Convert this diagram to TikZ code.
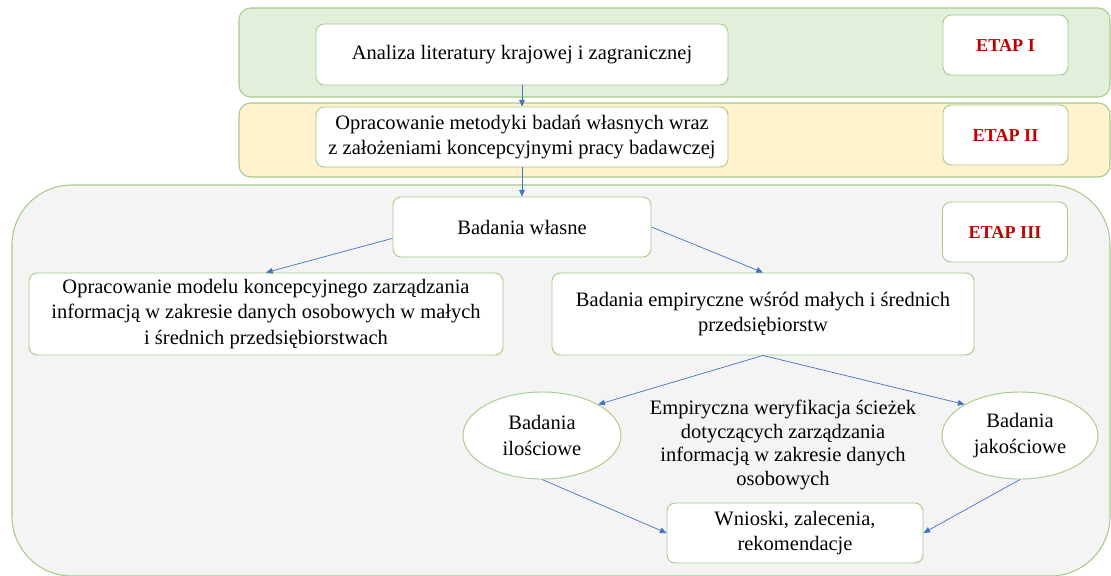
\documentclass[tikz,border=0pt]{standalone}
\usepackage{fontspec}
\setmainfont{Liberation Serif}
\usetikzlibrary{arrows.meta,positioning,shapes.geometric}
\definecolor{stageline}{HTML}{A6CB8A}
\definecolor{stageone}{HTML}{E2EFDA}
\definecolor{stagetwo}{HTML}{FFF2CC}
\definecolor{stagethree}{HTML}{F4F4F4}
\definecolor{flowblue}{HTML}{4472C4}
\definecolor{etapred}{HTML}{C00000}
\tikzset{
  band/.style={draw=stageline, line width=0.9pt, rounded corners=10pt},
  stepbox/.style={draw=stageline, fill=white, line width=0.8pt, rounded corners=7pt,
    align=center, inner sep=2pt, font=\fontsize{17.5}{22}\selectfont},
  etapbox/.style={stepbox, minimum width=3.75cm, minimum height=1.8cm,
    text=etapred, font=\fontsize{15.5}{18}\selectfont\bfseries},
  ovalbox/.style={ellipse, draw=stageline, fill=white, line width=0.8pt, align=center,
    inner sep=0pt, minimum height=2.61cm, font=\fontsize{17.5}{22}\selectfont},
  note/.style={align=center, inner sep=0pt, font=\fontsize{17.5}{20}\selectfont},
  arr/.style={-{Triangle[length=2mm,width=1.7mm]}, draw=flowblue, line width=0.6pt}
}
\begin{document}
\begin{tikzpicture}[x=0.03cm,y=-0.03cm]
  \useasboundingbox (0,0) rectangle (1111,575);
  \draw[band, fill=stageone] (239,8) rectangle (1110,97);
  \draw[band, fill=stagetwo] (239,103) rectangle (1110,177);
  \draw[band, fill=stagethree, rounded corners=51pt] (12,185) rectangle (1110,576);

  \node[stepbox, minimum width=12.36cm, minimum height=1.83cm] (lit) at (522,54.5)
    {Analiza literatury krajowej i zagranicznej};
  \node[stepbox, minimum width=12.36cm, minimum height=1.8cm] (metod) at (522,137)
    {Opracowanie metodyki badań własnych wraz\\z założeniami koncepcyjnymi pracy badawczej};
  \node[etapbox] (etap1) at (1005.5,45) {ETAP I};
  \node[etapbox] (etap2) at (1005.5,135) {ETAP II};
  \node[etapbox] (etap3) at (1005,232) {ETAP III};

  \node[stepbox, minimum width=7.74cm, minimum height=1.8cm] (wlasne) at (522,227)
    {Badania własne};
  \node[stepbox, minimum width=14.22cm, minimum height=2.46cm] (model) at (266,314)
    {Opracowanie modelu koncepcyjnego zarządzania\\informacją w zakresie danych osobowych w małych\\i średnich przedsiębiorstwach};
  \node[stepbox, minimum width=12.66cm, minimum height=2.46cm] (empir) at (763,314)
    {Badania empiryczne wśród małych i średnich\\przedsiębiorstw};
  \node[ovalbox, minimum width=4.74cm] (ilosc) at (542,435.5) {Badania\\ilościowe};
  \node[ovalbox, minimum width=4.68cm] (jakosc) at (1020,435.5) {Badania\\jakościowe};
  \node[note] (weryf) at (783,445)
    {Empiryczna weryfikacja ścieżek\\dotyczących zarządzania\\informacją w zakresie danych\\osobowych};
  \node[stepbox, minimum width=7.68cm, minimum height=1.8cm] (wnioski) at (795,533)
    {Wnioski, zalecenia,\\rekomendacje};

  \draw[arr] (lit) -- (metod);
  \draw[arr] (metod) -- (wlasne);
  \draw[arr] (wlasne.185) -- (model.north);
  \draw[arr] (wlasne.east) -- (empir.north);
  \draw[arr] (empir.south) -- (ilosc.north east);
  \draw[arr] (empir.south) -- (jakosc.north west);
  \draw[arr] (ilosc.south) -- (wnioski.west);
  \draw[arr] (jakosc.south) -- (wnioski.east);
\end{tikzpicture}
\end{document}
